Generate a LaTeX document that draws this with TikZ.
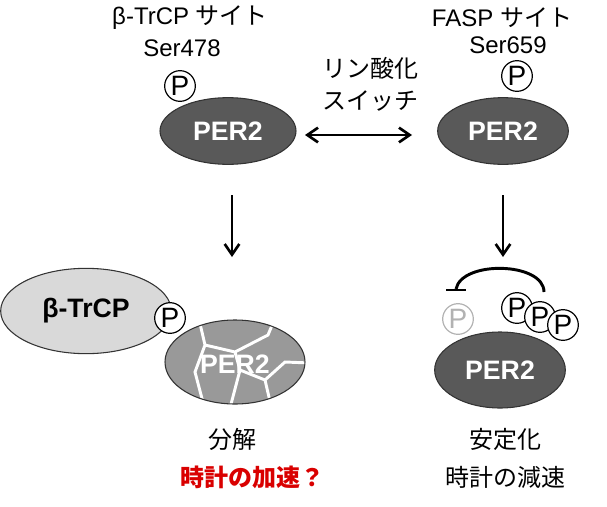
\documentclass[tikz,border=0pt]{standalone}
\usepackage{fontspec}
\setmainfont{Liberation Sans}
\newfontfamily\jp{Noto Sans CJK JP}
\usetikzlibrary{arrows.meta,shapes.geometric}
\tikzset{
 per/.style={ellipse,draw=black!80,line width=0.8pt,fill=black!65,text=white,font=\fontsize{20}{22}\selectfont\bfseries,minimum width=102pt,minimum height=50pt,inner sep=0pt},
 pc/.style={circle,draw=black,line width=0.9pt,fill=white,minimum size=23pt,inner sep=0pt,font=\fontsize{21}{22}\selectfont},
 lbl/.style={font=\fontsize{18}{21}\selectfont,align=center},
 arr/.style={-{Straight Barb[length=8pt,width=11pt,line width=2pt]},line width=2.2pt},
}
\begin{document}
\begin{tikzpicture}[x=0.75pt,y=-0.75pt]
\useasboundingbox (0,0) rectangle (607,507);
% top left
\node[lbl] (t1) at (190,18) {β-TrCP {\jp サイト}};
\node[lbl] (t2) at (182,48) {Ser478};
\node[per] (p1) at (228,131) {PER2};
\node[pc] (pa) at (180,86) {P};
% top right
\node[lbl] (t3) at (502,18) {FASP {\jp サイト}};
\node[lbl] (t4) at (508,45) {Ser659};
\node[per,minimum width=98pt] (p2) at (503,131) {PER2};
\node[pc] (pb) at (517,76) {P};
% switch
\node[lbl,align=center,font=\jp\fontsize{18}{24}\selectfont] (sw) at (370,84) {リン酸化\\スイッチ};
\coordinate (sa) at (305,135); \coordinate (sb) at (412,135);
\draw[{Straight Barb[length=8pt,width=11pt,line width=2pt]}-{Straight Barb[length=8pt,width=11pt,line width=2pt]},line width=2.2pt] (sa) -- (sb);
% down arrows
\coordinate (d1a) at (232,195); \coordinate (d1b) at (232,257);
\coordinate (d2a) at (503,195); \coordinate (d2b) at (503,257);
\draw[arr] (d1a) -- (d1b);
\draw[arr] (d2a) -- (d2b);
% bottom left
\node[ellipse,draw=black!80,line width=0.8pt,fill=black!15,minimum width=128pt,minimum height=64pt,font=\fontsize{20}{22}\selectfont\bfseries] (bt) at (86,311) {β-TrCP};
\fill[black!40] (235,362) ellipse (70 and 42);
\begin{scope}
\clip (235,362) ellipse (70 and 42);
\draw[white,line width=2.2pt] (198,315) -- (205,345) -- (195,372) -- (205,410);
\draw[white,line width=2.2pt] (205,345) -- (235,352) -- (268,335) -- (275,318);
\draw[white,line width=2.2pt] (235,352) -- (240,370) -- (230,408);
\draw[white,line width=2.2pt] (240,370) -- (265,380) -- (272,410);
\draw[white,line width=2.2pt] (265,380) -- (285,362) -- (310,363);
\end{scope}
\draw[black!80,line width=0.8pt] (235,362) ellipse (70 and 42);
\node[font=\fontsize{20}{22}\selectfont\bfseries,text=white] (p3t) at (235,364) {PER2};
\node[pc] (pc1) at (170,318) {P};
% bottom right
\node[per,minimum width=98pt,minimum height=57pt] (p4) at (500,370) {PER2};
\node[pc,draw=black!30,text=black!30] (pf) at (458,319) {P};
\node[pc] (pr1) at (517,308) {P};
\node[pc] (pr2) at (540,317) {P};
\node[pc] (pr3) at (563,325) {P};
\coordinate (ia) at (544,292); \coordinate (ib) at (456,289);
\draw[line width=2.2pt] (ia) .. controls (544,262) and (462,260) .. (ib);
\draw[line width=2.2pt] (446,290) -- (466,290);
% captions
\node[lbl,font=\jp\fontsize{18}{21}\selectfont] (c1) at (232,439) {分解};
\node[lbl,text=red!85!black,font=\jp\fontsize{18}{21}\selectfont\bfseries] (c2) at (252,477) {時計の加速？};
\node[lbl,font=\jp\fontsize{18}{21}\selectfont] (c3) at (505,439) {安定化};
\node[lbl,font=\jp\fontsize{18}{21}\selectfont] (c4) at (505,477) {時計の減速};
\end{tikzpicture}
\end{document}
